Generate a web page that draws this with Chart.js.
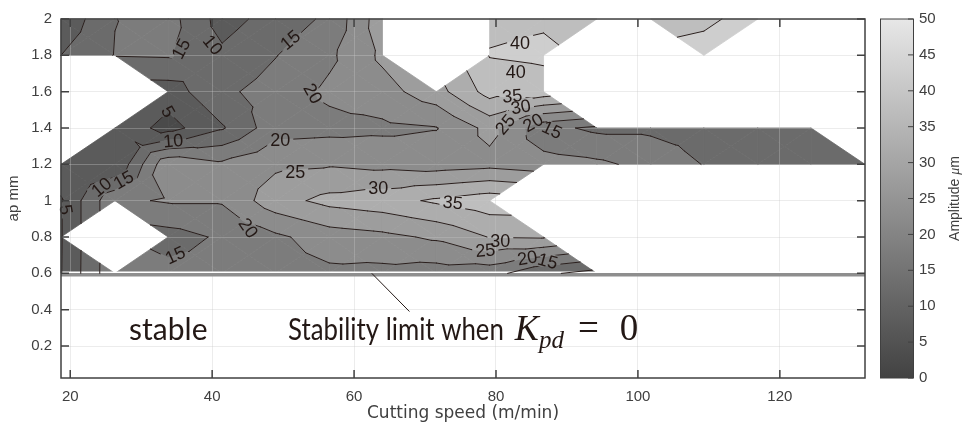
<!DOCTYPE html>
<html>
<head>
<meta charset="utf-8">
<script src="https://cdn.jsdelivr.net/npm/chart.js@4.4.1/dist/chart.umd.min.js"></script>
<style>
  html, body { margin: 0; padding: 0; background: #fff; }
  #wrap { width: 962px; height: 427px; }
</style>
</head>
<body>
<div id="wrap"><canvas id="contourChart" width="962" height="427"></canvas></div>
<script>
// grid of the measurement (cutting speed x depth of cut)
const cuttingSpeeds = [18.7, 26.3, 33.8, 41.4, 48.9, 56.5, 64.0, 71.6, 79.1, 86.7, 94.2, 101.8, 109.3, 116.9, 124.4, 132.0];
const depthsOfCut = [0.6, 0.8, 1.0, 1.2, 1.4, 1.6, 1.8, 2.0];

// vibration amplitude (um), one row per depth, null = no measurement
const ampAt060 = [4.8, 19, 16.5, 17, 18, 19, 18.6, 17.7, 17, 11, 8, null, null, null, null, null];
const ampAt080 = [4.7, null, 13, 15.7, 19, 22.5, 23.7, 25.8, 30.2, 30.5, null, null, null, null, null, null];
const ampAt100 = [4.7, 19, 20.5, 20.5, 28, 31.5, 33, 35.8, 38, null, null, null, null, null, null, null];
const ampAt120 = [7, 5.2, 24, 21, 24, 24.5, 23.5, 22.6, 23.5, 22, 21, 18.5, 14.8, 13, 13, 12.5];
const ampAt140 = [null, 9, 3, 9.5, 18, 18.5, 19, 19.8, 26.5, 16.5, 14, 14, 13, 12.5, 12.5, null];
const ampAt160 = [null, null, 7.5, 14, 17, 21, 23, 28, 37, 38, null, null, null, null, null, null];
const ampAt180 = [10, 15.2, 15.5, 11, 14.8, 19, 26, null, 40.2, 40.8, null, null, 41, null, null, null];
const ampAt200 = [6, 14.9, 17, 8, 12, 16, 28, null, 39.2, 39.5, 38, 39, 39.5, 41, null, null];
const amplitudeRows = [ampAt060, ampAt080, ampAt100, ampAt120, ampAt140, ampAt160, ampAt180, ampAt200];

const contourLevels = [0, 5, 10, 15, 20, 25, 30, 35, 40, 45, 50];
const xTickValues = [20, 40, 60, 80, 100, 120];
const yTickValues = [0.2, 0.4, 0.6, 0.8, 1, 1.2, 1.4, 1.6, 1.8, 2];
const colorbarTicks = [0, 5, 10, 15, 20, 25, 30, 35, 40, 45, 50];

// contour labels
const labelSpeed = [35.6, 40.1, 51.0, 54.2, 33.8, 34.5, 49.6, 51.7, 63.4, 73.9, 24.4, 27.5, 19.4, 34.8, 45.1, 80.6, 78.5, 84.4, 87.3, 83.4, 82.8, 82.3, 83.5, 81.3, 85.2, 87.9];
const labelDepth = [1.836, 1.858, 1.885, 1.59, 1.49, 1.33, 1.334, 1.16, 1.07, 0.99, 1.075, 1.115, 0.95, 0.70, 0.85, 0.78, 0.727, 0.685, 0.668, 1.87, 1.71, 1.577, 1.516, 1.42, 1.43, 1.39];
const labelText = ['15', '10', '15', '20', '5', '10', '20', '25', '30', '35', '10', '15', '5', '15', '20', '30', '25', '20', '15', '40', '40', '35', '30', '25', '20', '15'];
const labelAngle = [-62, 50, -40, 60, 60, -5, 0, 0, 0, 5, -40, -30, 80, -25, 55, 0, -5, -10, 15, 0, 0, -5, -10, -50, -30, 25];

const stableLimit = 0.6;

function grayFor(v) {
  const g = Math.round(66 + 3.3 * v);
  return 'rgb(' + g + ',' + g + ',' + g + ')';
}

function buildTriangles(chart) {
  const xs = chart.scales.x, ys = chart.scales.y;
  const tris = [];
  for (let j = 0; j < depthsOfCut.length - 1; j++) {
    for (let i = 0; i < cuttingSpeeds.length - 1; i++) {
      const corners = [[i, j], [i + 1, j], [i + 1, j + 1], [i, j + 1]].map(function (p) {
        return {
          x: xs.getPixelForValue(cuttingSpeeds[p[0]]),
          y: ys.getPixelForValue(depthsOfCut[p[1]]),
          v: amplitudeRows[p[1]][p[0]]
        };
      });
      const valid = corners.filter(function (c) { return c.v !== null; });
      if (valid.length === 4) {
        const c = {
          x: (corners[0].x + corners[1].x) / 2,
          y: (corners[0].y + corners[3].y) / 2,
          v: (corners[0].v + corners[1].v + corners[2].v + corners[3].v) / 4
        };
        for (let k = 0; k < 4; k++) tris.push([corners[k], corners[(k + 1) % 4], c]);
      } else if (valid.length === 3) {
        tris.push(valid);
      }
    }
  }
  return tris;
}

// keep part of polygon where sign*(v-level) >= 0
function clipPoly(poly, level, sign) {
  const out = [];
  for (let k = 0; k < poly.length; k++) {
    const a = poly[k], b = poly[(k + 1) % poly.length];
    const da = sign * (a.v - level), db = sign * (b.v - level);
    if (da >= 0) out.push(a);
    if ((da >= 0) !== (db >= 0)) {
      const t = da / (da - db);
      out.push({ x: a.x + t * (b.x - a.x), y: a.y + t * (b.y - a.y), v: a.v + t * (b.v - a.v) });
    }
  }
  return out;
}

const contourPlugin = {
  id: 'contourPlugin',
  beforeDraw(chart) {
    const ctx = chart.ctx;
    const tris = buildTriangles(chart);
    ctx.save();
    ctx.lineJoin = 'round';
    ctx.lineWidth = 0.8;
    tris.forEach(function (tri) {
      for (let k = 0; k < contourLevels.length - 1; k++) {
        let poly = clipPoly(tri, contourLevels[k], 1);
        if (poly.length < 3) continue;
        poly = clipPoly(poly, contourLevels[k + 1], -1);
        if (poly.length < 3) continue;
        const col = grayFor((contourLevels[k] + contourLevels[k + 1]) / 2);
        ctx.fillStyle = col;
        ctx.strokeStyle = col;
        ctx.beginPath();
        ctx.moveTo(poly[0].x, poly[0].y);
        for (let m = 1; m < poly.length; m++) ctx.lineTo(poly[m].x, poly[m].y);
        ctx.closePath();
        ctx.fill();
        ctx.stroke();
      }
    });
    ctx.restore();
  },
  afterDatasetsDraw(chart) {
    const ctx = chart.ctx;
    const xs = chart.scales.x, ys = chart.scales.y;
    const area = chart.chartArea;
    const tris = buildTriangles(chart);

    // stability limit line
    const yLim = ys.getPixelForValue(stableLimit);
    ctx.save();
    ctx.strokeStyle = '#ffffff';
    ctx.lineWidth = 1.5;
    ctx.beginPath();
    ctx.moveTo(area.left, yLim - 1);
    ctx.lineTo(area.right, yLim - 1);
    ctx.stroke();
    ctx.strokeStyle = '#8e8e8e';
    ctx.lineWidth = 3.5;
    ctx.beginPath();
    ctx.moveTo(area.left, yLim + 1.5);
    ctx.lineTo(area.right, yLim + 1.5);
    ctx.stroke();
    ctx.restore();

    // label boxes
    ctx.save();
    ctx.font = '18px "Liberation Sans", Arial, sans-serif';
    const boxes = labelText.map(function (t, n) {
      return {
        x: xs.getPixelForValue(labelSpeed[n]),
        y: ys.getPixelForValue(labelDepth[n]),
        w: ctx.measureText(t).width + 6,
        h: 15,
        a: labelAngle[n] * Math.PI / 180,
        t: t
      };
    });
    ctx.beginPath();
    ctx.rect(0, 0, chart.width, chart.height);
    boxes.forEach(function (b) {
      const c = Math.cos(b.a), s = Math.sin(b.a);
      const pts = [[-b.w / 2, -b.h / 2], [b.w / 2, -b.h / 2], [b.w / 2, b.h / 2], [-b.w / 2, b.h / 2]];
      pts.forEach(function (p, m) {
        const px = b.x + p[0] * c - p[1] * s, py = b.y + p[0] * s + p[1] * c;
        if (m === 0) ctx.moveTo(px, py); else ctx.lineTo(px, py);
      });
      ctx.closePath();
    });
    ctx.clip('evenodd');

    ctx.strokeStyle = '#2a1f1d';
    ctx.lineWidth = 1;
    ctx.lineCap = 'round';
    ctx.beginPath();
    tris.forEach(function (tri) {
      for (let k = 1; k < contourLevels.length - 1; k++) {
        const L = contourLevels[k];
        const pts = [];
        for (let e = 0; e < 3; e++) {
          const a = tri[e], b = tri[(e + 1) % 3];
          if ((a.v >= L) !== (b.v >= L)) {
            const t = (L - a.v) / (b.v - a.v);
            pts.push([a.x + t * (b.x - a.x), a.y + t * (b.y - a.y)]);
          }
        }
        if (pts.length === 2) {
          ctx.moveTo(pts[0][0], pts[0][1]);
          ctx.lineTo(pts[1][0], pts[1][1]);
        }
      }
    });
    ctx.stroke();
    ctx.restore();

    ctx.save();
    ctx.font = '18px "Liberation Sans", Arial, sans-serif';
    ctx.fillStyle = '#231815';
    ctx.textAlign = 'center';
    ctx.textBaseline = 'middle';
    boxes.forEach(function (b) {
      ctx.save();
      ctx.translate(b.x, b.y);
      ctx.rotate(b.a);
      ctx.fillText(b.t, 0, 1);
      ctx.restore();
    });
    ctx.restore();

    // pointer and annotation text
    ctx.save();
    ctx.strokeStyle = '#231815';
    ctx.lineWidth = 1;
    ctx.beginPath();
    ctx.moveTo(xs.getPixelForValue(62.5), ys.getPixelForValue(stableLimit));
    ctx.lineTo(xs.getPixelForValue(67.8), ys.getPixelForValue(0.39));
    ctx.stroke();
    ctx.fillStyle = '#231815';
    ctx.textBaseline = 'alphabetic';
    ctx.textAlign = 'left';
    const baseY = ys.getPixelForValue(0.2325);
    ctx.font = '30px Lato, "Open Sans", sans-serif';
    ctx.fillText('stable', xs.getPixelForValue(28.3), baseY);
    let tx = xs.getPixelForValue(50.7);
    const limitText = 'Stability limit when';
    const squeeze = 0.86;
    ctx.save();
    ctx.translate(tx, baseY);
    ctx.scale(squeeze, 1);
    ctx.fillText(limitText, 0, 0);
    ctx.restore();
    tx += ctx.measureText(limitText).width * squeeze + 11;
    ctx.font = 'italic 36px "Liberation Serif", serif';
    ctx.fillText('K', tx, baseY);
    tx += ctx.measureText('K').width;
    ctx.font = 'italic 25px "Liberation Serif", serif';
    ctx.fillText('pd', tx, baseY + 8);
    tx += ctx.measureText('pd').width + 14;
    ctx.font = '37px "Liberation Serif", serif';
    ctx.fillText('=', tx, baseY);
    tx += ctx.measureText('=').width + 21;
    ctx.fillText('0', tx, baseY);
    ctx.restore();
  },
  afterDraw(chart) {
    const ctx = chart.ctx;
    const xs = chart.scales.x, ys = chart.scales.y;
    const area = chart.chartArea;
    ctx.save();
    ctx.strokeStyle = '#404040';
    ctx.lineWidth = 1.5;
    ctx.strokeRect(area.left, area.top, area.right - area.left, area.bottom - area.top);
    ctx.beginPath();
    xTickValues.forEach(function (v) {
      const px = xs.getPixelForValue(v);
      ctx.moveTo(px, area.bottom); ctx.lineTo(px, area.bottom - 8);
      ctx.moveTo(px, area.top); ctx.lineTo(px, area.top + 8);
    });
    yTickValues.forEach(function (v) {
      const py = ys.getPixelForValue(v);
      ctx.moveTo(area.left, py); ctx.lineTo(area.left + 8, py);
      ctx.moveTo(area.right, py); ctx.lineTo(area.right - 8, py);
    });
    ctx.stroke();

    // colour bar
    const cbLeft = area.right + 15, cbRight = area.right + 48;
    const cbMin = colorbarTicks[0], cbMax = colorbarTicks[colorbarTicks.length - 1];
    const toY = function (v) { return area.bottom - (v - cbMin) / (cbMax - cbMin) * (area.bottom - area.top); };
    const grad = ctx.createLinearGradient(0, area.bottom, 0, area.top);
    grad.addColorStop(0, grayFor(cbMin));
    grad.addColorStop(1, grayFor(cbMax));
    ctx.fillStyle = grad;
    ctx.fillRect(cbLeft, area.top, cbRight - cbLeft, area.bottom - area.top);
    ctx.strokeStyle = '#404040';
    ctx.lineWidth = 1;
    ctx.strokeRect(cbLeft + 0.5, area.top, cbRight - cbLeft, area.bottom - area.top);
    ctx.beginPath();
    colorbarTicks.forEach(function (v) {
      const py = toY(v);
      ctx.moveTo(cbRight, py); ctx.lineTo(cbRight - 5, py);
    });
    ctx.stroke();
    ctx.fillStyle = '#404040';
    ctx.font = '15px "Liberation Sans", Arial, sans-serif';
    ctx.textAlign = 'left';
    ctx.textBaseline = 'middle';
    colorbarTicks.forEach(function (v) {
      ctx.fillText(String(v), cbRight + 6, toY(v));
    });
    // colour bar title with italic mu
    ctx.translate(cbRight + 42, (area.top + area.bottom) / 2);
    ctx.rotate(-Math.PI / 2);
    const partA = 'Amplitude ', partB = 'μ', partC = 'm';
    ctx.font = '14px "Liberation Sans", Arial, sans-serif';
    const wA = ctx.measureText(partA).width, wC = ctx.measureText(partC).width;
    ctx.font = 'italic 14px "Liberation Serif", serif';
    const wB = ctx.measureText(partB).width;
    let cx = -(wA + wB + wC) / 2;
    ctx.font = '14px "Liberation Sans", Arial, sans-serif';
    ctx.fillText(partA, cx, 0);
    cx += wA;
    ctx.font = 'italic 14px "Liberation Serif", serif';
    ctx.fillText(partB, cx, 0);
    cx += wB;
    ctx.font = '14px "Liberation Sans", Arial, sans-serif';
    ctx.fillText(partC, cx, 0);
    ctx.restore();
  }
};

const gridPoints = [];
depthsOfCut.forEach(function (d, j) {
  cuttingSpeeds.forEach(function (s, i) {
    if (amplitudeRows[j][i] !== null) gridPoints.push({ x: s, y: d });
  });
});

new Chart(document.getElementById('contourChart'), {
  type: 'scatter',
  data: {
    datasets: [{
      data: gridPoints,
      pointRadius: 0,
      showLine: false
    }]
  },
  options: {
    responsive: false,
    animation: false,
    devicePixelRatio: 1,
    layout: { padding: { left: 0, right: 97, top: 19, bottom: 0 } },
    plugins: {
      legend: { display: false },
      tooltip: { enabled: false }
    },
    scales: {
      x: {
        type: 'linear',
        min: 18.7,
        max: 132,
        afterBuildTicks: function (scale) {
          scale.ticks = xTickValues.map(function (v) { return { value: v }; });
        },
        afterFit: function (scale) { scale.height = 49; },
        grid: { color: 'rgba(200,200,200,0.35)', drawTicks: false },
        border: { display: false },
        ticks: {
          color: '#404040',
          padding: 10,
          maxRotation: 0,
          font: { family: '"Liberation Sans", Arial, sans-serif', size: 15 }
        },
        title: {
          display: true,
          text: 'Cutting speed (m/min)',
          color: '#404040',
          padding: { top: 0, bottom: 3 },
          font: { family: '"DejaVu Sans", sans-serif', size: 17 }
        }
      },
      y: {
        type: 'linear',
        min: 0.024,
        max: 2,
        afterBuildTicks: function (scale) {
          scale.ticks = yTickValues.map(function (v) { return { value: v }; });
        },
        afterFit: function (scale) { scale.width = 61; },
        grid: { color: 'rgba(200,200,200,0.35)', drawTicks: false },
        border: { display: false },
        ticks: {
          color: '#404040',
          padding: 9,
          font: { family: '"Liberation Sans", Arial, sans-serif', size: 15 },
          callback: function (v) { return String(Number(v.toFixed(1))); }
        },
        title: {
          display: true,
          text: 'ap mm',
          color: '#404040',
          padding: { top: 5, bottom: 0 },
          font: { family: '"Liberation Sans", Arial, sans-serif', size: 15 }
        }
      }
    }
  },
  plugins: [contourPlugin]
});
</script>
</body>
</html>
